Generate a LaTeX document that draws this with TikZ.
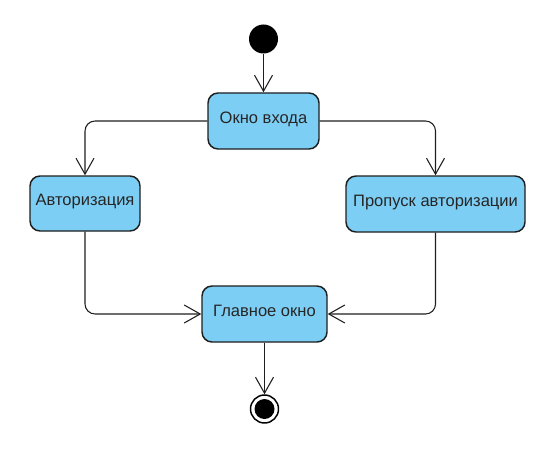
\documentclass[tikz,border=0pt]{standalone}
\usepackage{fontspec}
\setmainfont{Liberation Sans}
\usetikzlibrary{arrows.meta}
\definecolor{stateblue}{RGB}{125,206,244}
\definecolor{lineblack}{RGB}{30,30,30}
\tikzset{
	state/.style={draw=lineblack, line width=1.1pt, fill=stateblue, rounded corners=7.5pt, minimum height=42pt, text height=9pt, text depth=6pt, inner sep=0pt, font=\fontsize{12.4pt}{14pt}\selectfont, text=black!85},
	conn/.style={draw=lineblack, line width=0.8pt, rounded corners=7.5pt, -{Straight Barb[length=12pt,width=13.5pt,line width=0.8pt]}}
}

\begin{document}
\begin{tikzpicture}[x=0.75pt, y=-0.75pt]
			%%%%% START %%%%%
			
			\useasboundingbox (0, 0) rectangle (548, 456);
			
			\node[circle, fill=black, minimum size=21.75pt, inner sep=0pt] (start) at (263.5, 39) {};
			
			\node[state, minimum width=83.25pt] (login) at (263.5, 121) {Окно входа};
			\node[state, minimum width=82.5pt, minimum height=41.25pt] (auth) at (85, 203.5) {Авторизация};
			\node[state, minimum width=134.25pt] (skip) at (435.5, 204) {Пропуск авторизации};
			\node[state, minimum width=93.75pt] (main) at (264.5, 314) {Главное окно};
			
			\node[circle, draw=black, line width=1.1pt, fill=white, minimum size=21pt, inner sep=0pt] (end) at (264.5, 409) {};
			\fill[black] (end.center) circle (7.5pt);
			
			\draw[conn] (start) -- (login);
			\draw[conn] (login.west) -| (auth.north);
			\draw[conn] (login.east) -| (skip.north);
			\draw[conn] (auth.south) |- (main.west);
			\draw[conn] (skip.south) |- (main.east);
			\draw[conn] (main) -- (end);
			
			%%%%% END %%%%%
		\end{tikzpicture}
\end{document}
